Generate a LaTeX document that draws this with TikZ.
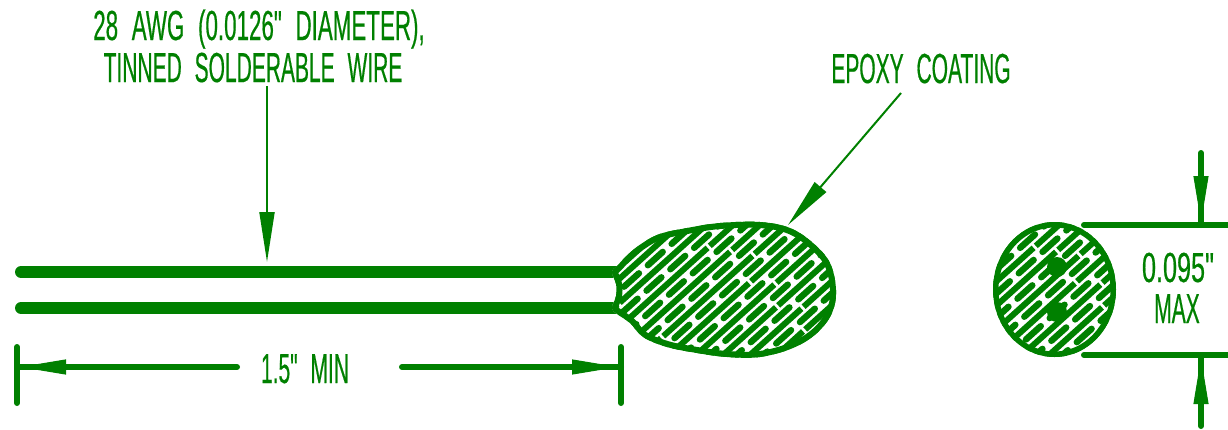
\documentclass[tikz,border=0pt]{standalone}
\usepackage{fontspec}
\usetikzlibrary{arrows.meta}
\newfontfamily\cadfont[FakeStretch=0.5,WordSpace=2.2,FakeBold=0.4]{Liberation Sans}
\definecolor{cad}{RGB}{0,128,0}
\newcommand{\blobpath}{plot[smooth cycle,tension=.6] coordinates {(617,266) (633,250) (657,235) (687,228) (720,223) (760,222) (790,228) (813,243) (830,263) (836,290) (832,313) (817,333) (793,348) (760,357) (727,357) (697,353) (667,347) (643,337) (630,323) (617,314) (612,308) (616,296) (616,284) (612,272)}}
\newcommand{\hatchlines}[3]{%
  \foreach \i in {-#3,...,#3}{%
    \pgfmathsetmacro{\ph}{mod(abs(\i)*23+(\i<0?11:0),32)}
    \pgfmathsetmacro{\sx}{#1+\i*9*sin(42)-200*cos(42)}
    \pgfmathsetmacro{\sy}{#2+\i*9*cos(42)+200*sin(42)}
    \pgfmathsetmacro{\ex}{#1+\i*9*sin(42)+200*cos(42)}
    \pgfmathsetmacro{\ey}{#2+\i*9*cos(42)-200*sin(42)}
    \pgfmathtruncatemacro{\odd}{mod(abs(\i),2)}
    \ifnum\odd=1
      \draw[hatchlong,dash phase=\ph pt] (\sx,\sy) -- (\ex,\ey);
    \else
      \draw[hatchshort,dash phase=\ph pt] (\sx,\sy) -- (\ex,\ey);
    \fi
  }}
\tikzset{
  cadtext/.style={text=cad,font=\cadfont\fontsize{42}{46}\selectfont,inner sep=0pt,anchor=base},
  wire/.style={draw=cad,line width=12pt,line cap=round},
  dimline/.style={draw=cad,line width=6pt,line cap=round},
  leaderline/.style={draw=cad,line width=2pt},
  dimarrow/.style={-{Triangle[length=46pt,width=15pt,fill=cad]}},
  leadarrow/.style={-{Triangle[length=50pt,width=15pt,fill=cad]}},
  hatchlong/.style={draw=cad,line width=6pt,dash pattern=on 120pt off 3pt},
  hatchshort/.style={draw=cad,line width=6.4pt,line cap=round,dash pattern=on 20pt off 12pt}
}
\begin{document}
\begin{tikzpicture}[x=1pt,y=-1pt]
\useasboundingbox (0,0) rectangle (1228,429);
% wires
\coordinate (w1a) at (21,272); \coordinate (w1b) at (618,272);
\coordinate (w2a) at (21,308); \coordinate (w2b) at (618,308);
\draw[wire] (w1a) -- (w1b);
\draw[wire] (w2a) -- (w2b);
% bead
\begin{scope}
  \clip \blobpath;
  \fill[white] (600,200) rectangle (850,370);
  \hatchlines{728}{290}{16}
  \draw[draw=cad,line width=12pt] \blobpath;
\end{scope}
% end view
\begin{scope}
  \clip (1054.5,289.5) ellipse [x radius=61.5pt,y radius=67.5pt];
  \fill[white] (990,220) rectangle (1120,360);
  \hatchlines{1054}{290}{10}
  \fill[cad] (1057,267) circle (10pt) (1057,312) circle (10pt);
  \draw[draw=cad,line width=11pt] (1054.5,289.5) ellipse [x radius=61.5pt,y radius=67.5pt];
\end{scope}
% labels
\node[cadtext,xscale=1.065] (awg) at (259,40) {28 AWG (0.0126" DIAMETER),};
\node[cadtext] (tin) at (253,82) {TINNED SOLDERABLE WIRE};
\node[cadtext] (epoxy) at (921,83) {EPOXY COATING};
\node[cadtext] (len) at (305,383) {1.5" MIN};
\node[cadtext,xscale=1.2] (dia) at (1178,282) {0.095"};
\node[cadtext] (max) at (1177,323) {MAX};
% leaders
\coordinate (la) at (267,86); \coordinate (lb) at (267,262);
\draw[leaderline,leadarrow] (la) -- (lb);
\coordinate (ea) at (901,93); \coordinate (eb) at (788,225);
\draw[leaderline,leadarrow] (ea) -- (eb);
% length dimension
\coordinate (t1a) at (17,347); \coordinate (t1b) at (17,403);
\coordinate (t2a) at (621,347); \coordinate (t2b) at (621,403);
\coordinate (d1) at (237,367); \coordinate (d1t) at (17,367);
\coordinate (d2) at (402,367); \coordinate (d2t) at (621,367);
\draw[dimline] (t1a) -- (t1b);
\draw[dimline] (t2a) -- (t2b);
\draw[dimline] (d1) -- (d1t);
\draw[dimline] (d2) -- (d2t);
\draw[dimarrow,draw=cad,line width=1pt] (66,367) -- (20,367);
\draw[dimarrow,draw=cad,line width=1pt] (572,367) -- (618,367);
% diameter dimension
\coordinate (h1a) at (1084,225); \coordinate (h1b) at (1228,225);
\coordinate (h2a) at (1084,355); \coordinate (h2b) at (1228,355);
\coordinate (a1) at (1201,153); \coordinate (a1t) at (1201,225);
\coordinate (a2) at (1201,426); \coordinate (a2t) at (1201,355);
\draw[dimline] (h1a) -- (h1b);
\draw[dimline] (h2a) -- (h2b);
\draw[dimline] (a1) -- (a1t);
\draw[dimline] (a2) -- (a2t);
\draw[dimarrow,draw=cad,line width=1pt] (1201,176) -- (1201,222);
\draw[dimarrow,draw=cad,line width=1pt] (1201,404) -- (1201,358);
\end{tikzpicture}
\end{document}
